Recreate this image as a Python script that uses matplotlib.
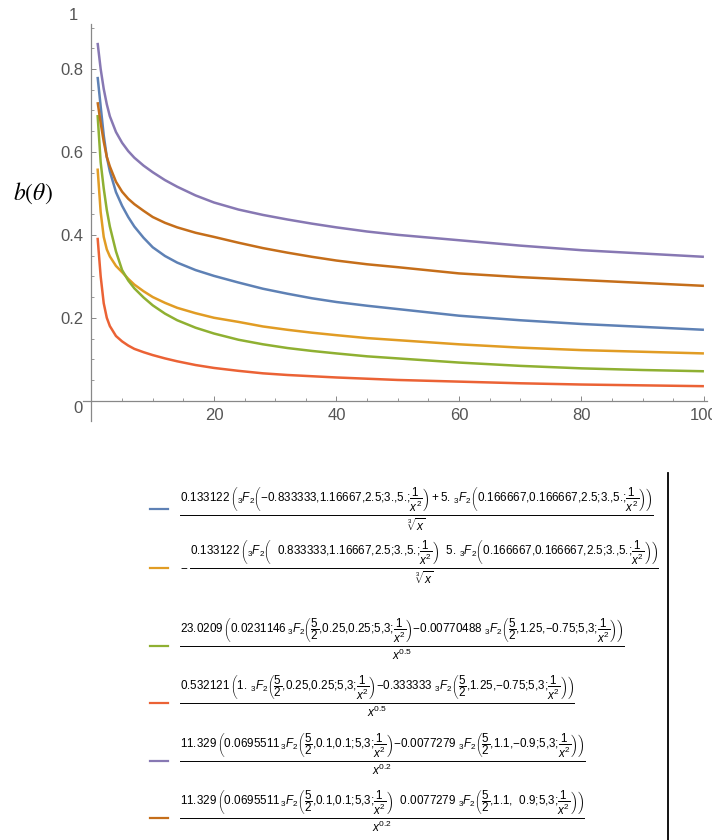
import matplotlib
matplotlib.use("Agg")
import matplotlib.pyplot as plt
from matplotlib.ticker import MultipleLocator
from matplotlib.lines import Line2D

plt.rcParams['font.family'] = ['Liberation Sans', 'DejaVu Sans']
plt.rcParams['mathtext.fontset'] = 'custom'
plt.rcParams['mathtext.rm'] = 'Liberation Sans'
plt.rcParams['mathtext.it'] = 'Liberation Sans:italic'
plt.rcParams['mathtext.bf'] = 'Liberation Sans:bold'

# values
x = [1, 1.5, 2, 2.5, 3, 4, 5, 6, 7, 8.5, 10, 12, 14, 17, 20, 24, 28, 32, 36, 40, 45, 50, 60, 70, 80, 90, 100]
blue = [.781, .71, .64, .588, .553, .503, .47, .443, .42, .393, .37, .349, .333, .315, .301, .285, .270, .258,
        .247, .238, .229, .221, .205, .194, .185, .178, .171]
orange = [.56, .455, .395, .365, .348, .325, .31, .294, .28, .264, .25, .236, .224, .211, .200, .19, .179, .171,
          .164, .158, .151, .146, .136, .128, .122, .118, .114]
green = [.689, .575, .512, .46, .42, .36, .315, .29, .271, .249, .23, .21, .194, .176, .162, .147, .136, .127,
         .12, .114, .107, .102, .092, .084, .078, .074, .071]
red = [.393, .30, .235, .2, .18, .156, .143, .133, .125, .117, .11, .102, .095, .086, .079, .072, .066, .062,
       .059, .056, .053, .050, .046, .042, .039, .037, .035]
purple = [.863, .80, .752, .715, .686, .648, .622, .602, .586, .567, .551, .532, .516, .495, .478, .461, .448, .437,
          .427, .418, .408, .400, .387, .374, .363, .355, .347]
brown = [.72, .67, .625, .588, .565, .528, .504, .487, .474, .458, .443, .429, .418, .405, .395, .381, .368, .357,
         .347, .338, .329, .322, .307, .298, .291, .284, .277]

series = [blue, orange, green, red, purple, brown]
colors = ['#5E81B5', '#E19C24', '#8FB032', '#EB6235', '#8778B3', '#C56E1A']

F = r'{}_3F_2'
q = r'\dfrac{1}{x^2}'
h = r'\dfrac{5}{2}'
M = '\u2212'


def T(s):
    return r'\text{' + s + '}'


numerators = [
    r'$0.133122\,\left(' + F + r'\left(' + T(M + '0.833333,1.16667,2.5;3.,5.;') + q + r'\right)+5.\,' + F
    + r'\left(' + T('0.166667,0.166667,2.5;3.,5.;') + q + r'\right)\right)$',
    r'$0.133122\,\left(' + F + r'\left(' + T('  0.833333,1.16667,2.5;3.,5.;') + q + r'\right)\ \ 5.\,' + F
    + r'\left(' + T('0.166667,0.166667,2.5;3.,5.;') + q + r'\right)\right)$',
    r'$23.0209\,\left(0.0231146\,' + F + r'\left(' + h + T(',0.25,0.25;5,3;') + q + r'\right)' + T(M + '0.00770488 ')
    + F + r'\left(' + h + T(',1.25,' + M + '0.75;5,3;') + q + r'\right)\right)$',
    r'$0.532121\,\left(1.\,' + F + r'\left(' + h + T(',0.25,0.25;5,3;') + q + r'\right)' + T(M + '0.333333 ')
    + F + r'\left(' + h + T(',1.25,' + M + '0.75;5,3;') + q + r'\right)\right)$',
    r'$11.329\,\left(0.0695511\,' + F + r'\left(' + h + T(',0.1,0.1;5,3;') + q + r'\right)' + T(M + '0.0077279 ')
    + F + r'\left(' + h + T(',1.1,' + M + '0.9;5,3;') + q + r'\right)\right)$',
    r'$11.329\,\left(0.0695511\,' + F + r'\left(' + h + T(',0.1,0.1;5,3;') + q + r'\right)' + T('  0.0077279 ')
    + F + r'\left(' + h + T(',1.1,  0.9;5,3;') + q + r'\right)\right)$',
]
denominators = [r'$\sqrt[3]{x}$', r'$\sqrt[3]{x}$', r'$x^{0.5}$', r'$x^{0.5}$', r'$x^{0.2}$', r'$x^{0.2}$']
prefix = ['', M, '', '', '', '']

W, H = 712, 840
fig = plt.figure(figsize=(W / 100, H / 100), dpi=100)
ax = fig.add_axes([82.9 / W, 1 - 420.6 / H, 624.1 / W, 396.4 / H])

for ys, c in zip(series, colors):
    ax.plot(x, ys, color=c, lw=1.8, solid_capstyle='butt')

ax.set_xlim(-1.4, 100.5)
ax.set_ylim(-0.048, 0.908)
for s in ['top', 'right']:
    ax.spines[s].set_visible(False)
for s in ['left', 'bottom']:
    ax.spines[s].set_position(('data', 0))
    ax.spines[s].set_color('#888888')
    ax.spines[s].set_linewidth(0.9)

ax.set_xticks([20, 40, 60, 80, 100])
ax.set_yticks([0.2, 0.4, 0.6, 0.8])
ax.set_yticklabels(['0.2', '0.4', '0.6', '0.8'])
ax.xaxis.set_minor_locator(MultipleLocator(5))
ax.yaxis.set_minor_locator(MultipleLocator(0.05))
ax.tick_params(which='major', direction='in', length=3.6, width=0.7, color='#888888',
               labelcolor='#555555', labelsize=12)
ax.tick_params(which='minor', direction='in', length=2, width=0.6, color='#888888')
ax.tick_params(axis='y', pad=6)
ax.tick_params(axis='x', pad=5)

ax.text(-2.2, -0.018, '0', ha='center', va='center', fontsize=12, color='#555555', clip_on=False)
ax.text(-3.0, 0.930, '1', ha='center', va='center', fontsize=12, color='#555555', clip_on=False)
fig.text(33 / W, 1 - 193 / H, r'$b(\theta)$', ha='center', va='center', fontsize=17,
         math_fontfamily='stix')

# legend: numerator, bar and denominator drawn apart
renderer = fig.canvas.get_renderer()
bar_y = [515, 568, 646, 703, 761, 818]
sw_y = [509, 568, 646, 703, 761, 818]
for num, den, pre, c, by, sy in zip(numerators, denominators, prefix, colors, bar_y, sw_y):
    fig.add_artist(Line2D([150 / W, 168 / W], [1 - sy / H] * 2, color=c, lw=1.6))
    x0 = 180
    if pre:
        fig.text(x0 / W, 1 - by / H, pre, ha='left', va='center', fontsize=8.5)
        x0 = 190
    t = fig.text(x0 / W, 1 - (by - 2) / H, num, ha='left', va='bottom', fontsize=8.35)
    bb = t.get_window_extent(renderer)
    fig.add_artist(Line2D([x0 / W, bb.x1 / W], [1 - by / H] * 2, color='black', lw=0.7))
    fig.text((x0 + bb.x1) / 2 / W, 1 - (by + 2) / H, den, ha='center', va='top', fontsize=8.6)

fig.add_artist(Line2D([668 / W] * 2, [1 - 473 / H, 0], color='black', lw=1.3))

fig.savefig('out.png', dpi=100)
